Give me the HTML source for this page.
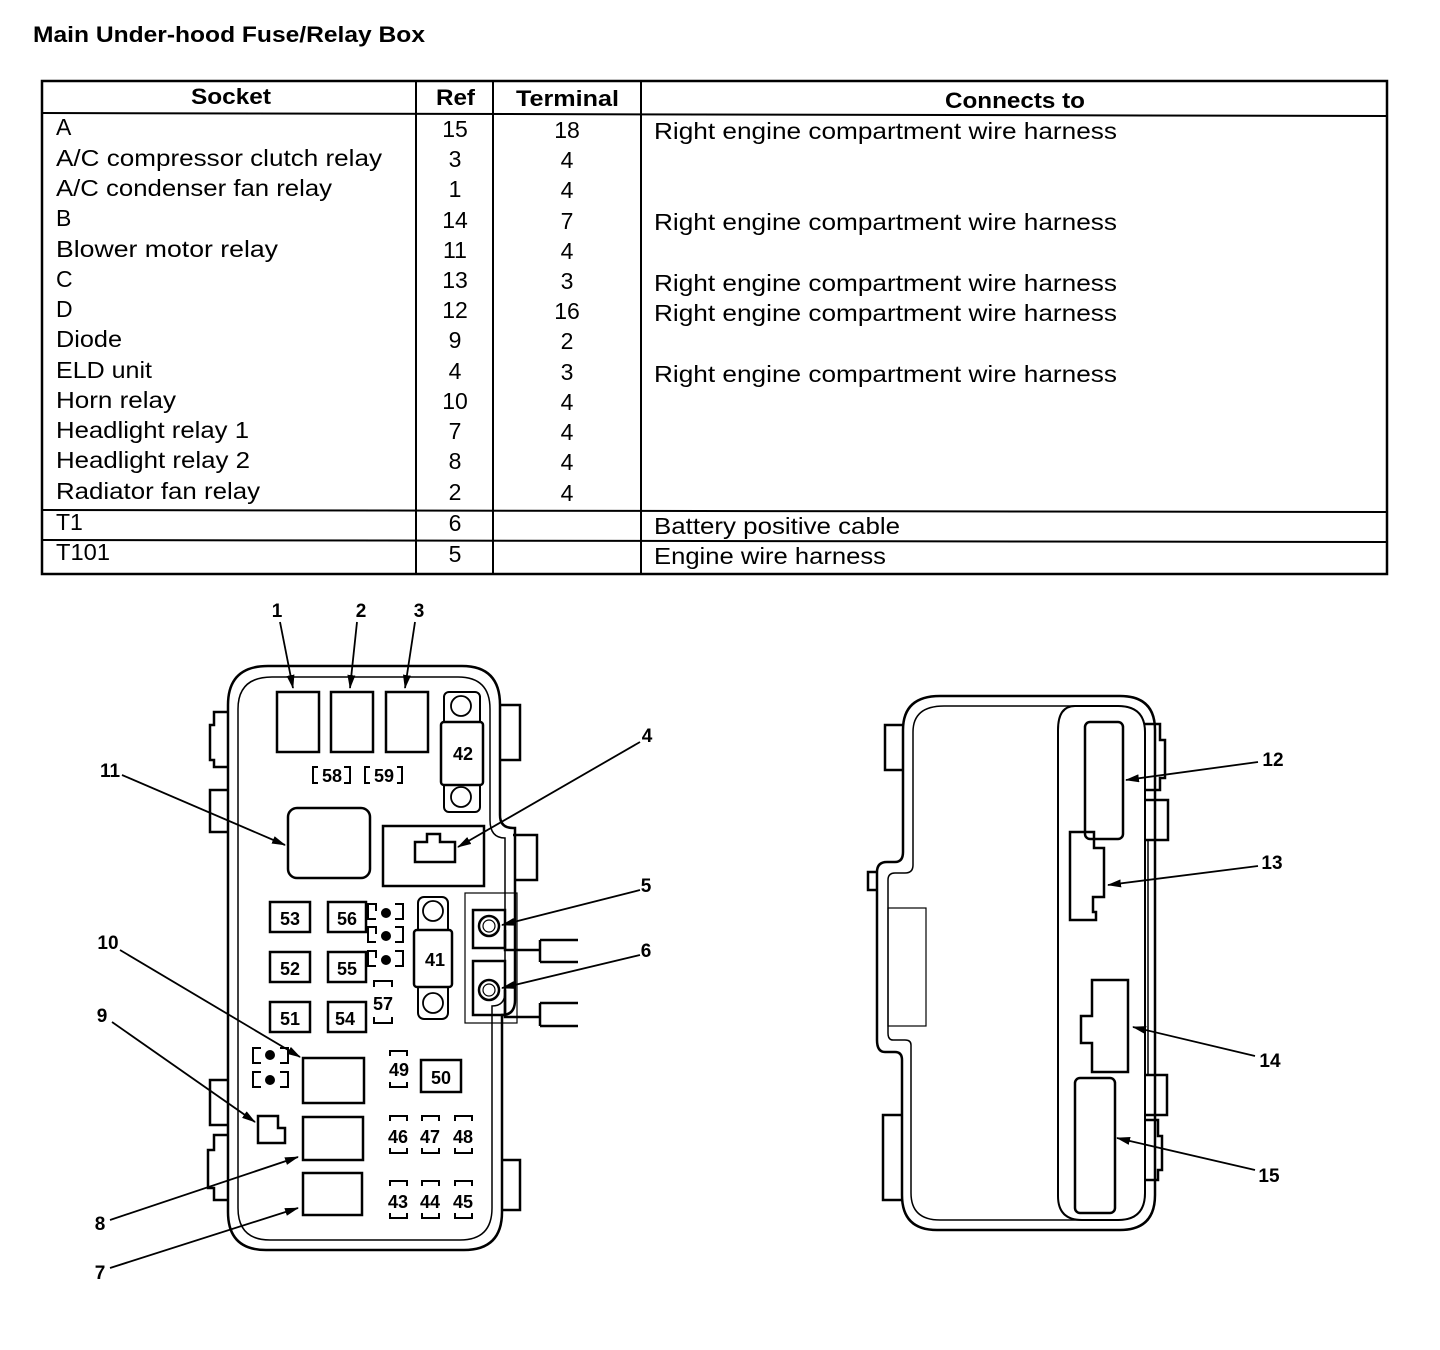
<!DOCTYPE html>
<html><head><meta charset="utf-8"><style>
html,body{margin:0;padding:0;background:#fff;}
svg{display:block;font-family:"Liberation Sans",sans-serif;}
.t{font-size:23px;fill:#000;}
.h{font-size:22px;font-weight:bold;fill:#000;}
.n{font-size:19px;font-weight:bold;fill:#000;}
.f{font-size:18px;font-weight:bold;fill:#000;}
</style></head><body>
<svg width="1440" height="1350" viewBox="0 0 1440 1350" xmlns="http://www.w3.org/2000/svg">
<defs><marker id="ar" markerWidth="14" markerHeight="8" refX="13" refY="4" orient="auto" markerUnits="userSpaceOnUse"><path d="M0,0 L14,4 L0,8z" fill="#000"/></marker></defs>
<text x="33" y="42" class="h" textLength="392" lengthAdjust="spacingAndGlyphs">Main Under-hood Fuse/Relay Box</text>
<g stroke="#000" fill="none">
<rect x="42" y="81" width="1345" height="493" stroke-width="2.5"/>
<line x1="42" y1="113" x2="1387" y2="116" stroke-width="2"/>
<line x1="416" y1="81" x2="416" y2="574" stroke-width="2"/>
<line x1="493" y1="81" x2="493" y2="574" stroke-width="2"/>
<line x1="641" y1="81" x2="641" y2="574" stroke-width="2"/>
<line x1="42" y1="510" x2="1387" y2="512" stroke-width="2"/>
<line x1="42" y1="540" x2="1387" y2="542" stroke-width="2"/>
</g>
<text x="191" y="104" class="h" textLength="80" lengthAdjust="spacingAndGlyphs">Socket</text>
<text x="436" y="105" class="h" textLength="39" lengthAdjust="spacingAndGlyphs">Ref</text>
<text x="516" y="106" class="h" textLength="103" lengthAdjust="spacingAndGlyphs">Terminal</text>
<text x="945" y="108" class="h" textLength="140" lengthAdjust="spacingAndGlyphs">Connects to</text>
<g class="t">
<text x="56" y="135">A</text>
<text x="56" y="166" textLength="326" lengthAdjust="spacingAndGlyphs">A/C compressor clutch relay</text>
<text x="56" y="196" textLength="276" lengthAdjust="spacingAndGlyphs">A/C condenser fan relay</text>
<text x="56" y="226">B</text>
<text x="56" y="257" textLength="222" lengthAdjust="spacingAndGlyphs">Blower motor relay</text>
<text x="56" y="287">C</text><text x="56" y="317">D</text>
<text x="56" y="347" textLength="66" lengthAdjust="spacingAndGlyphs">Diode</text>
<text x="56" y="378" textLength="96" lengthAdjust="spacingAndGlyphs">ELD unit</text>
<text x="56" y="408" textLength="120" lengthAdjust="spacingAndGlyphs">Horn relay</text>
<text x="56" y="438" textLength="193" lengthAdjust="spacingAndGlyphs">Headlight relay 1</text>
<text x="56" y="468" textLength="194" lengthAdjust="spacingAndGlyphs">Headlight relay 2</text>
<text x="56" y="499" textLength="204" lengthAdjust="spacingAndGlyphs">Radiator fan relay</text>
<text x="56" y="530">T1</text>
<text x="56" y="560" textLength="54" lengthAdjust="spacingAndGlyphs">T101</text>
</g>
<g class="t" text-anchor="middle">
<text x="455" y="137">15</text><text x="455" y="167">3</text><text x="455" y="197">1</text><text x="455" y="228">14</text><text x="455" y="258">11</text><text x="455" y="288">13</text><text x="455" y="318">12</text><text x="455" y="348">9</text><text x="455" y="379">4</text><text x="455" y="409">10</text><text x="455" y="439">7</text><text x="455" y="469">8</text><text x="455" y="500">2</text><text x="455" y="531">6</text><text x="455" y="562">5</text>
<text x="567" y="138">18</text><text x="567" y="168">4</text><text x="567" y="198">4</text><text x="567" y="229">7</text><text x="567" y="259">4</text><text x="567" y="289">3</text><text x="567" y="319">16</text><text x="567" y="349">2</text><text x="567" y="380">3</text><text x="567" y="410">4</text><text x="567" y="440">4</text><text x="567" y="470">4</text><text x="567" y="501">4</text>
</g>
<g class="t">
<text x="654" y="139" textLength="463" lengthAdjust="spacingAndGlyphs">Right engine compartment wire harness</text>
<text x="654" y="230" textLength="463" lengthAdjust="spacingAndGlyphs">Right engine compartment wire harness</text>
<text x="654" y="291" textLength="463" lengthAdjust="spacingAndGlyphs">Right engine compartment wire harness</text>
<text x="654" y="321" textLength="463" lengthAdjust="spacingAndGlyphs">Right engine compartment wire harness</text>
<text x="654" y="382" textLength="463" lengthAdjust="spacingAndGlyphs">Right engine compartment wire harness</text>
<text x="654" y="534" textLength="246" lengthAdjust="spacingAndGlyphs">Battery positive cable</text>
<text x="654" y="564" textLength="232" lengthAdjust="spacingAndGlyphs">Engine wire harness</text>
</g>

<!-- LEFT BOX -->
<g stroke="#000" fill="none" stroke-width="2.5">
<path d="M268,666 H462 Q500,666 500,705 V815 Q500,828 513,828 H515 V1000 Q515,1015 502,1015 V1212 Q502,1250 464,1250 H266 Q228,1250 228,1212 V705 Q228,666 268,666 Z"/>
<path d="M272,677 H458 Q490,677 490,709 V820 Q490,838 505,838 V992 Q505,1006 492,1006 V1208 Q492,1240 460,1240 H270 Q238,1240 238,1208 V709 Q238,677 272,677 Z" stroke-width="1.5"/>
<path d="M228,712 H214 V725 H210 V760 H214 V767 H228" />
<path d="M228,790 H210 V832 H228"/>
<path d="M228,1080 H210 V1125 H228"/>
<path d="M228,1135 H214 V1150 H208 V1188 H214 V1200 H228"/>
<path d="M500,705 H520 V760 H500"/>
<path d="M513,835 H537 V880 H515"/>
<path d="M502,1160 H520 V1210 H502"/>
<rect x="277" y="692" width="42" height="60"/><rect x="331" y="692" width="42" height="60"/><rect x="386" y="692" width="42" height="60"/>
<rect x="444" y="692" width="36" height="120" rx="5" stroke-width="2"/>
<rect x="441" y="722" width="42" height="63" rx="3" fill="#fff"/>
<circle cx="461" cy="706" r="10" stroke-width="1.8"/><circle cx="461" cy="797" r="10" stroke-width="1.8"/>
<rect x="288" y="808" width="82" height="70" rx="9"/>
<rect x="383" y="826" width="101" height="60"/>
<path d="M415,862 V842 H427 V834 H440 V842 H455 V862 Z"/>
<rect x="270" y="902" width="40" height="30"/><rect x="328" y="902" width="38" height="30"/>
<rect x="270" y="952" width="40" height="30"/><rect x="328" y="952" width="38" height="30"/>
<rect x="270" y="1002" width="40" height="30"/><rect x="328" y="1002" width="38" height="30"/>
<rect x="418" y="897" width="30" height="122" rx="6" stroke-width="2"/>
<rect x="414" y="930" width="38" height="57" rx="3" fill="#fff"/>
<circle cx="433" cy="911" r="10" stroke-width="1.8"/><circle cx="433" cy="1003" r="10" stroke-width="1.8"/>
<rect x="465" y="893" width="52" height="130" stroke-width="1.2"/>
<rect x="473" y="910" width="32" height="38" stroke-width="2.5"/>
<rect x="473" y="961" width="32" height="54" stroke-width="2.5"/>
<circle cx="489" cy="926" r="10"/><circle cx="489" cy="926" r="6" stroke-width="1.2"/>
<circle cx="489" cy="990" r="10"/><circle cx="489" cy="990" r="6" stroke-width="1.2"/>
<path d="M505,930 V950 H540 M540,940 V962 M540,940 H578 M540,962 H578"/>
<path d="M505,990 V1017 H540 M540,1003 V1026 M540,1003 H578 M540,1026 H578"/>
<rect x="303" y="1058" width="61" height="45"/><rect x="303" y="1117" width="60" height="43"/><rect x="303" y="1173" width="59" height="42"/>
<path d="M258,1143 V1116 H278 V1128 H285 V1143 Z"/>
<rect x="421" y="1060" width="40" height="32"/>
</g>
<g stroke="#000" fill="none" stroke-width="2">
<path d="M376,911 V904 H368 V919 H376 M395,904 H403 V919 H395"/>
<path d="M376,934 V927 H368 V942 H376 M395,927 H403 V942 H395"/>
<path d="M376,958 V951 H368 V966 H376 M395,951 H403 V966 H395"/>
<path d="M261,1048 H253 V1063 H261 M280,1048 H288 V1063 H280"/>
<path d="M261,1072 H253 V1087 H261 M280,1072 H288 V1087 H280"/>
<path d="M374,987 V981 H392 V987 M374,1017 V1023 H392 V1017"/>
<path d="M390,1056 V1051 H407 V1056 M390,1082 V1087 H407 V1082"/>
<path d="M390,1121 V1116 H407 V1121 M390,1148 V1153 H407 V1148"/>
<path d="M422,1121 V1116 H439 V1121 M422,1148 V1153 H439 V1148"/>
<path d="M455,1121 V1116 H472 V1121 M455,1148 V1153 H472 V1148"/>
<path d="M390,1186 V1181 H407 V1186 M390,1213 V1218 H407 V1213"/>
<path d="M422,1186 V1181 H439 V1186 M422,1213 V1218 H439 V1213"/>
<path d="M455,1186 V1181 H472 V1186 M455,1213 V1218 H472 V1213"/>
<path d="M318,767 H313 V783 H318 M344,767 H350 V783 H344"/>
<path d="M370,767 H365 V783 H370 M397,767 H402 V783 H397"/>
</g>
<g fill="#000"><circle cx="386" cy="913" r="5"/><circle cx="386" cy="936" r="5"/><circle cx="386" cy="960" r="5"/><circle cx="270" cy="1055" r="5"/><circle cx="270" cy="1080" r="5"/></g>
<g class="f" text-anchor="middle">
<text x="463" y="760">42</text><text x="332" y="782">58</text><text x="384" y="782">59</text>
<text x="290" y="925">53</text><text x="347" y="925">56</text><text x="290" y="975">52</text><text x="347" y="975">55</text><text x="290" y="1025">51</text><text x="345" y="1025">54</text>
<text x="435" y="966">41</text><text x="383" y="1010">57</text><text x="399" y="1076">49</text><text x="441" y="1084">50</text>
<text x="398" y="1143">46</text><text x="430" y="1143">47</text><text x="463" y="1143">48</text>
<text x="398" y="1208">43</text><text x="430" y="1208">44</text><text x="463" y="1208">45</text>
</g>

<!-- RIGHT BOX -->
<g stroke="#000" fill="none" stroke-width="2.5">
<path d="M940,696 H1120 Q1155,696 1155,730 V1195 Q1155,1230 1120,1230 H937 Q902,1230 902,1195 V1060 Q902,1052 895,1052 H885 Q877,1052 877,1040 V872 Q877,862 887,862 H895 Q903,862 903,852 V730 Q903,696 940,696 Z"/>
<path d="M944,706 H1118 Q1145,706 1145,732 V1193 Q1145,1220 1118,1220 H940 Q911,1220 911,1193 V1045 Q911,1040 905,1040 H893 Q888,1040 888,1033 V880 Q888,873 895,873 H905 Q913,873 913,865 V732 Q913,706 944,706 Z" stroke-width="1.5"/>
<path d="M1075,706 H1118 Q1145,706 1145,732 V1193 Q1145,1220 1118,1220 H1082 Q1058,1220 1058,1196 V730 Q1058,706 1075,706 Z" stroke-width="2"/>
<rect x="888" y="908" width="38" height="118" stroke-width="1.2"/>
<path d="M903,725 H885 V770 H903"/>
<path d="M877,872 H868 V890 H877"/>
<path d="M903,1115 H883 V1200 H903"/>
<path d="M1145,724 H1160 V740 H1165 V778 H1160 V790 H1145"/>
<path d="M1145,800 H1168 V840 H1145"/>
<path d="M1145,1075 H1167 V1115 H1145"/>
<path d="M1145,1120 H1158 V1136 H1162 V1170 H1158 V1180 H1145"/>
<line x1="1148" y1="840" x2="1148" y2="1075" stroke-width="1.5"/>
<rect x="1085" y="722" width="38" height="117" rx="5"/>
<path d="M1070,832 H1094 V848 H1104 V897 H1093 V912 H1096 V920 H1070 Z"/>
<path d="M1092,980 H1128 V1072 H1092 V1043 H1081 V1016 H1092 Z"/>
<rect x="1075" y="1078" width="40" height="135" rx="5"/>
</g>

<g stroke="#000" stroke-width="1.8" marker-end="url(#ar)">
<line x1="280" y1="622" x2="293" y2="688"/>
<line x1="357" y1="622" x2="350" y2="688"/>
<line x1="415" y1="622" x2="405" y2="688"/>
<line x1="640" y1="742" x2="458" y2="847"/>
<line x1="122" y1="775" x2="285" y2="845"/>
<line x1="640" y1="890" x2="502" y2="925"/>
<line x1="640" y1="955" x2="502" y2="988"/>
<line x1="120" y1="950" x2="300" y2="1057"/>
<line x1="112" y1="1022" x2="255" y2="1122"/>
<line x1="110" y1="1220" x2="298" y2="1157"/>
<line x1="110" y1="1268" x2="298" y2="1208"/>
<line x1="1258" y1="762" x2="1126" y2="780"/>
<line x1="1258" y1="866" x2="1108" y2="885"/>
<line x1="1255" y1="1056" x2="1133" y2="1027"/>
<line x1="1255" y1="1170" x2="1117" y2="1138"/>
</g>
<g class="n" text-anchor="middle">
<text x="277" y="617">1</text><text x="361" y="617">2</text><text x="419" y="617">3</text><text x="647" y="742">4</text><text x="110" y="777">11</text><text x="646" y="892">5</text><text x="646" y="957">6</text><text x="108" y="949">10</text><text x="102" y="1022">9</text><text x="100" y="1230">8</text><text x="100" y="1279">7</text>
<text x="1273" y="766">12</text><text x="1272" y="869">13</text><text x="1270" y="1067">14</text><text x="1269" y="1182">15</text>
</g>
</svg>
</body></html>
